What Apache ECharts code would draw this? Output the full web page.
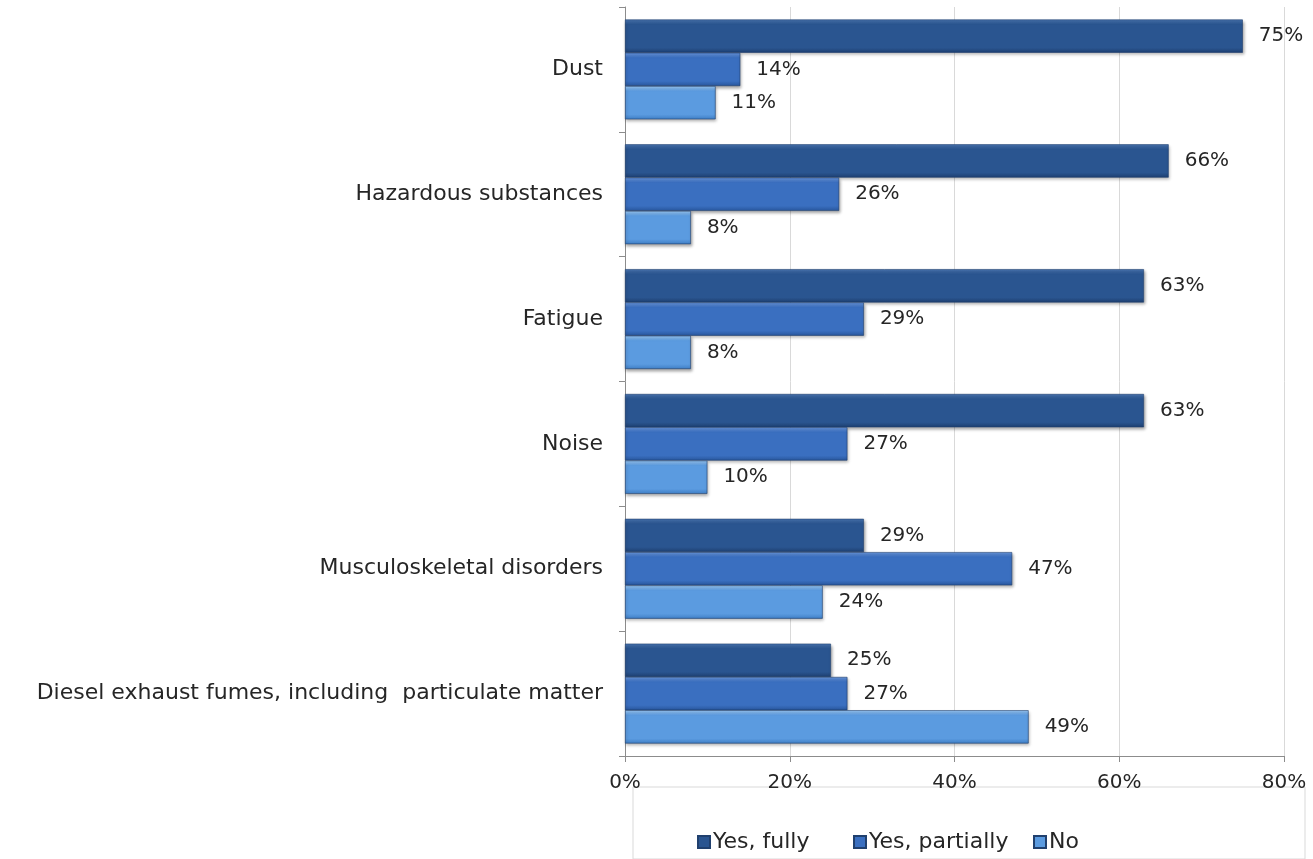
<!DOCTYPE html>
<html>
<head>
<meta charset="utf-8">
<script src="https://cdn.jsdelivr.net/npm/echarts@6/dist/echarts.min.js"></script>
<style>
  html, body { margin: 0; padding: 0; background: #fff; }
  #chart { width: 1313px; height: 859px; }
</style>
</head>
<body>
<div id="chart"></div>
<script>
  // data
  var categories = ['Dust', 'Hazardous substances', 'Fatigue', 'Noise',
    'Musculoskeletal disorders', 'Diesel exhaust fumes, including  particulate matter'];
  var seriesNames = ['Yes, fully', 'Yes, partially', 'No'];
  var yesFully = [75, 66, 63, 63, 29, 25];
  var yesPartially = [14, 26, 29, 27, 47, 27];
  var no = [11, 8, 8, 10, 24, 49];
  var xTicks = [0, 20, 40, 60, 80];

  var font = '"DejaVu Sans", sans-serif';

  // bevel-ish gradient per series
  function grad(top, mid, bottom) {
    return new echarts.graphic.LinearGradient(0, 0, 0, 1, [
      { offset: 0, color: top },
      { offset: 0.15, color: mid },
      { offset: 0.85, color: mid },
      { offset: 1, color: bottom }
    ]);
  }
  var colors = [
    grad('#4a77b4', '#2a5590', '#1d3f70'),
    grad('#6a98e0', '#3a6fc0', '#28569c'),
    grad('#9ccaf6', '#5b9be0', '#3f7fc6')
  ];
  var legendColors = ['#2a5590', '#3a6fc0', '#5b9be0'];
  var legendLefts = [697, 853, 1033];

  function makeSeries(name, data, i) {
    return {
      name: name,
      type: 'bar',
      data: data,
      barGap: '0%',
      barCategoryGap: '20%',
      itemStyle: {
        color: colors[i],
        borderColor: '#20406e',
        borderWidth: 0.6,
        shadowColor: 'rgba(0,0,0,0.35)',
        shadowBlur: 3,
        shadowOffsetX: 1,
        shadowOffsetY: 2
      },
      label: {
        show: true,
        position: 'right',
        distance: 16,
        formatter: '{c}%',
        color: '#262626',
        fontFamily: font,
        fontSize: 20
      }
    };
  }

  // one legend per item so each can sit where the picture has it
  var legends = seriesNames.map(function (n, i) {
    return {
      data: [{ name: n, itemStyle: { color: legendColors[i] } }],
      left: legendLefts[i],
      top: 831,
      padding: 0,
      itemWidth: 12,
      itemHeight: 12,
      icon: 'rect',
      textStyle: { fontFamily: font, fontSize: 22, color: '#262626', padding: [0, 0, 0, -2] }
    };
  });

  var option = {
    backgroundColor: '#fff',
    animation: false,
    grid: {
      left: 625,
      right: 29,
      top: 7,
      bottom: 103
    },
    legend: legends,
    graphic: [{
      type: 'rect',
      shape: { x: 633, y: 787, width: 672, height: 72 },
      style: { fill: 'none', stroke: '#d9d9d9', lineWidth: 1 },
      silent: true
    }],
    xAxis: {
      type: 'value',
      min: 0,
      max: 80,
      interval: 20,
      axisLine: { show: true, lineStyle: { color: '#8c8c8c' } },
      axisTick: { show: true, length: 6, lineStyle: { color: '#8c8c8c' } },
      splitLine: { show: true, lineStyle: { color: '#d9d9d9' } },
      axisLabel: {
        formatter: function (v) { return xTicks.indexOf(v) >= 0 ? v + '%' : ''; },
        color: '#262626',
        fontFamily: font,
        fontSize: 20,
        margin: 17
      }
    },
    yAxis: {
      type: 'category',
      inverse: true,
      data: categories,
      axisLine: { show: true, lineStyle: { color: '#8c8c8c' } },
      axisTick: { show: true, length: 6, lineStyle: { color: '#8c8c8c' } },
      axisLabel: {
        color: '#262626',
        fontFamily: font,
        fontSize: 22,
        margin: 22
      }
    },
    series: [
      makeSeries(seriesNames[0], yesFully, 0),
      makeSeries(seriesNames[1], yesPartially, 1),
      makeSeries(seriesNames[2], no, 2)
    ]
  };

  var chart = echarts.init(document.getElementById('chart'));
  chart.setOption(option);
</script>
</body>
</html>
